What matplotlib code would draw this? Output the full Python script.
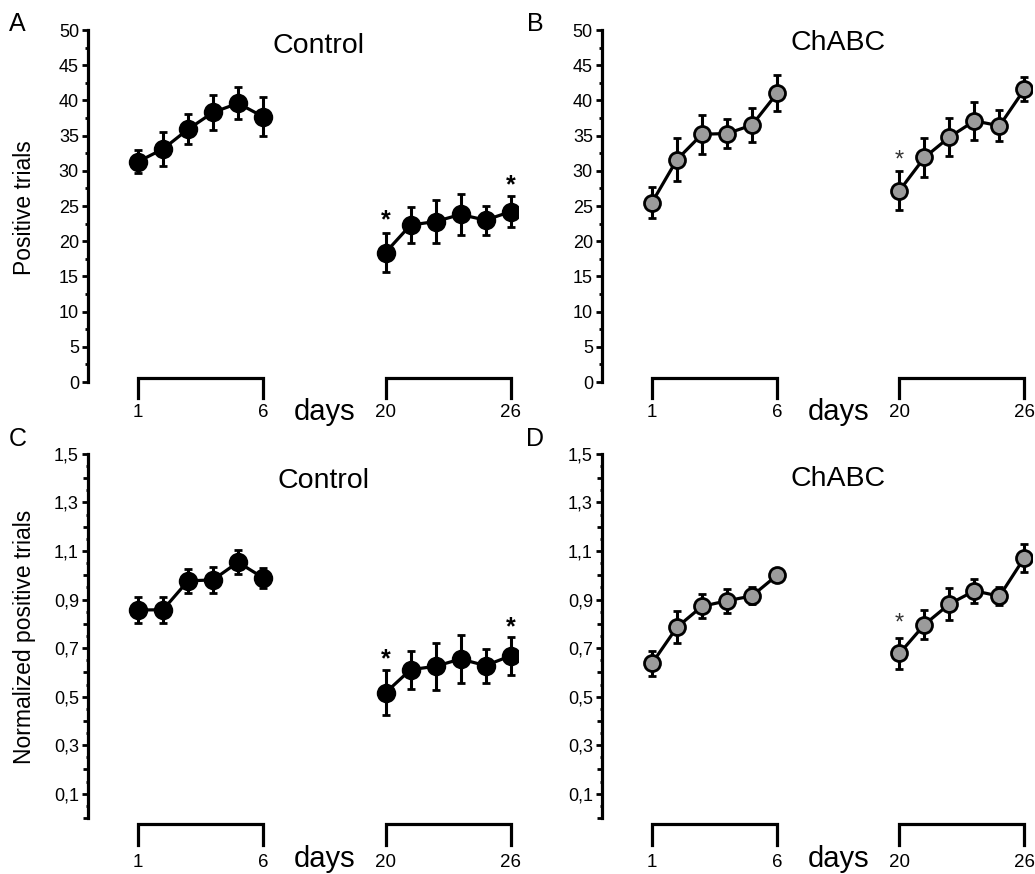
import matplotlib
matplotlib.use('Agg')
import matplotlib.pyplot as plt
from matplotlib.ticker import FixedLocator

plt.rcParams['font.family'] = ['Liberation Sans', 'DejaVu Sans']

# plotting positions of the two training blocks (days 1-6 and days 20-26)
x_early = [1, 2, 3, 4, 5, 6]
x_late = [10.9, 11.9, 12.9, 13.9, 14.9, 15.9]
bracket_ticks = ['1', '6', '20', '26']

# A: Control, positive trials
ctrl_raw_early = [31.3, 33.1, 35.9, 38.3, 39.6, 37.7]
ctrl_raw_early_err = [1.6, 2.35, 2.15, 2.5, 2.25, 2.75]
ctrl_raw_late = [18.4, 22.3, 22.8, 23.8, 23.0, 24.2]
ctrl_raw_late_err = [2.8, 2.5, 3.05, 2.9, 2.05, 2.2]

# B: ChABC, positive trials
chabc_raw_early = [25.5, 31.6, 35.2, 35.3, 36.5, 41.0]
chabc_raw_early_err = [2.2, 3.1, 2.8, 2.05, 2.4, 2.55]
chabc_raw_late = [27.2, 31.9, 34.8, 37.1, 36.4, 41.6]
chabc_raw_late_err = [2.75, 2.8, 2.7, 2.75, 2.2, 1.7]

# C: Control, normalized
ctrl_norm_early = [0.857, 0.858, 0.977, 0.981, 1.054, 0.99]
ctrl_norm_early_err = [0.055, 0.053, 0.049, 0.052, 0.05, 0.042]
ctrl_norm_late = [0.516, 0.611, 0.625, 0.655, 0.628, 0.668]
ctrl_norm_late_err = [0.093, 0.078, 0.097, 0.097, 0.07, 0.079]

# D: ChABC, normalized
chabc_norm_early = [0.637, 0.786, 0.872, 0.895, 0.915, 1.0]
chabc_norm_early_err = [0.05, 0.065, 0.05, 0.049, 0.035, 0.0]
chabc_norm_late = [0.678, 0.797, 0.882, 0.936, 0.914, 1.073]
chabc_norm_late_err = [0.063, 0.058, 0.067, 0.049, 0.038, 0.058]

raw_ticks = [0, 5, 10, 15, 20, 25, 30, 35, 40, 45, 50]
norm_ticks = [0.1, 0.3, 0.5, 0.7, 0.9, 1.1, 1.3, 1.5]
norm_ticklabels = ['0,1', '0,3', '0,5', '0,7', '0,9', '1,1', '1,3', '1,5']

GRAY = '#9b9b9b'


def draw_panel(ax, early, early_err, late, late_err, face, stars, star_style,
               ylim, bracket_y, label_y, days_y):
    for xs, ys, es in [(x_early, early, early_err), (x_late, late, late_err)]:
        ax.errorbar(xs, ys, yerr=es, fmt='-o', color='black', lw=2.3,
                    ms=12 if face == 'black' else 11.5, mfc=face, mec='black',
                    mew=2.0, elinewidth=2.2, capsize=3.2, capthick=2.2)
    for sx, sy in stars:
        ax.text(sx, sy, '*', ha='center', va='center', **star_style)

    ax.set_xlim(-1.0, 16.2)
    ax.set_ylim(*ylim)
    for s in ['top', 'right', 'bottom']:
        ax.spines[s].set_visible(False)
    ax.spines['left'].set_linewidth(2.3)
    ax.set_xticks([])
    ax.tick_params(axis='y', which='major', length=4.5, width=2.0,
                   labelsize=13, pad=2)
    ax.tick_params(axis='y', which='minor', length=2.0, width=2.0)

    trans = ax.get_xaxis_transform()
    for x0, x1 in [(x_early[0], x_early[-1]), (x_late[0], x_late[-1])]:
        ax.plot([x0, x0, x1, x1], [bracket_y[1], bracket_y[0], bracket_y[0], bracket_y[1]],
                transform=trans, clip_on=False, color='black', lw=2.3,
                solid_joinstyle='miter')
    for xv, lab in zip([x_early[0], x_early[-1], x_late[0], x_late[-1]], bracket_ticks):
        ax.text(xv, label_y, lab, transform=trans, ha='center', va='center',
                fontsize=13.5)
    ax.text(8.45, days_y, 'days', transform=trans, ha='center', va='center',
            fontsize=21)


fig = plt.figure(figsize=(10.35, 8.74), dpi=100)

axA = fig.add_axes([0.0850, 0.5629, 0.4155, 0.4027])
axB = fig.add_axes([0.5816, 0.5629, 0.4155, 0.4027])
axC = fig.add_axes([0.0850, 0.0641, 0.4155, 0.4165])
axD = fig.add_axes([0.5816, 0.0641, 0.4155, 0.4165])

ctrl_star = dict(fontsize=18, fontweight='bold', color='black')
chabc_star = dict(fontsize=17, color='#333333')

draw_panel(axA, ctrl_raw_early, ctrl_raw_early_err, ctrl_raw_late, ctrl_raw_late_err,
           'black', [(x_late[0], 23.0), (x_late[-1], 28.0)], ctrl_star,
           (0, 50), (0.011, -0.045), -0.088, -0.085)
draw_panel(axB, chabc_raw_early, chabc_raw_early_err, chabc_raw_late, chabc_raw_late_err,
           GRAY, [(x_late[0], 31.5)], chabc_star,
           (0, 50), (0.011, -0.045), -0.088, -0.085)
draw_panel(axC, ctrl_norm_early, ctrl_norm_early_err, ctrl_norm_late, ctrl_norm_late_err,
           'black', [(x_late[0], 0.655), (x_late[-1], 0.785)], ctrl_star,
           (0, 1.5), (-0.0165, -0.074), -0.121, -0.112)
draw_panel(axD, chabc_norm_early, chabc_norm_early_err, chabc_norm_late, chabc_norm_late_err,
           GRAY, [(x_late[0], 0.80)], chabc_star,
           (0, 1.5), (-0.0165, -0.074), -0.121, -0.112)

for ax in [axA, axB]:
    ax.yaxis.set_major_locator(FixedLocator(raw_ticks))
    ax.yaxis.set_minor_locator(FixedLocator([t + 2.5 for t in raw_ticks[:-1]]))

for ax in [axC, axD]:
    ax.yaxis.set_major_locator(FixedLocator(norm_ticks))
    ax.set_yticklabels(norm_ticklabels)
    ax.yaxis.set_minor_locator(FixedLocator([i * 0.2 for i in range(8)]))
    ax.tick_params(axis='y', which='minor', length=3.5, width=2.0)
    small = [i * 0.1 + 0.05 for i in range(15)]
    ax.hlines(small, -0.0055, 0, transform=ax.get_yaxis_transform(),
              color='black', lw=2.0, clip_on=False)

axA.set_title('Control', fontsize=20.5, x=0.535, y=0.955, va='center', pad=0)
axB.set_title('ChABC', fontsize=20.5, x=0.55, y=0.963, va='center', pad=0)
axC.set_title('Control', fontsize=20.5, x=0.548, y=0.927, va='center', pad=0)
axD.set_title('ChABC', fontsize=20.5, x=0.55, y=0.932, va='center', pad=0)

fig.text(0.017, 0.972, 'A', fontsize=18, ha='center', va='center')
fig.text(0.517, 0.972, 'B', fontsize=18, ha='center', va='center')
fig.text(0.017, 0.498, 'C', fontsize=18, ha='center', va='center')
fig.text(0.517, 0.498, 'D', fontsize=18, ha='center', va='center')

fig.text(0.024, 0.762, 'Positive trials', fontsize=16.5, rotation=90,
         ha='center', va='center')
fig.text(0.024, 0.271, 'Normalized positive trials', fontsize=16.5, rotation=90,
         ha='center', va='center')

fig.savefig('out.png', dpi=100)
